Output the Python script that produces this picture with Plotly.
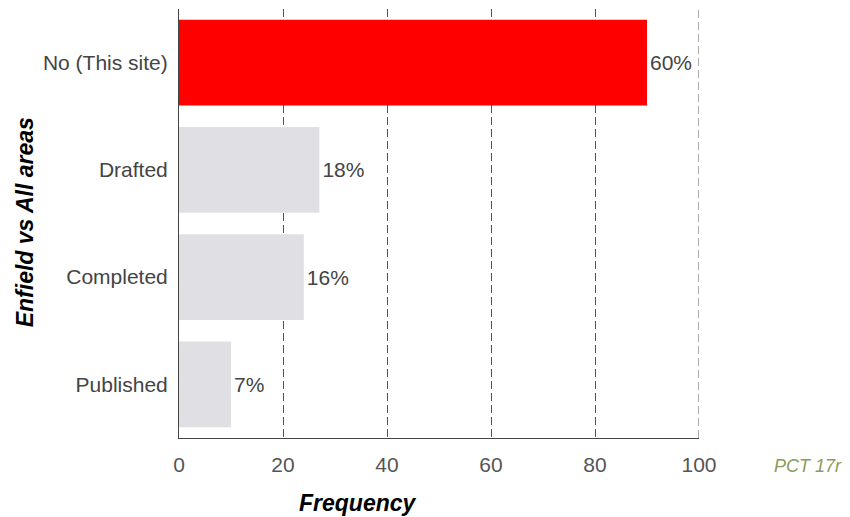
import plotly.graph_objects as go

categories = ["No (This site)", "Drafted", "Completed", "Published"]
frequencies = [90, 27, 24, 10]
percent_labels = ["60%", "18%", "16%", "7%"]
bar_colors = ["#ff0000", "#e0e0e4", "#e0e0e4", "#e0e0e4"]
x_ticks = [0, 20, 40, 60, 80, 100]

font_family = "Liberation Sans, Arial, sans-serif"

fig = go.Figure()
fig.add_trace(go.Bar(
    y=categories,
    x=frequencies,
    orientation="h",
    marker=dict(color=bar_colors, line=dict(width=0)),
    width=0.8,
    text=percent_labels,
    textposition="outside",
    cliponaxis=False,
    textfont=dict(family=font_family, size=21, color="#444444"),
    hoverinfo="skip",
))

# gridline at the last tick (plotly omits it at the range edge)
fig.add_shape(type="line", xref="x", yref="paper",
              x0=x_ticks[-1], x1=x_ticks[-1], y0=0, y1=1,
              line=dict(color="#555555", width=1, dash="8px,4px"), layer="below")

fig.update_layout(
    width=842, height=509,
    margin=dict(l=171, r=151, t=1, b=79),
    paper_bgcolor="white",
    plot_bgcolor="white",
    showlegend=False,
    font=dict(family=font_family),
    xaxis=dict(
        range=[0, 100],
        tickvals=x_ticks,
        showgrid=True,
        gridcolor="#555555",
        griddash="8px,4px",
        gridwidth=1,
        showline=True,
        linecolor="#444444",
        linewidth=1,
        zeroline=False,
        ticks="",
        ticklabelstandoff=8,
        tickfont=dict(family=font_family, size=21, color="#555555"),
        fixedrange=True,
    ),
    yaxis=dict(
        categoryorder="array",
        categoryarray=categories[::-1],
        range=[-0.5, 3.5],
        showline=True,
        linecolor="#444444",
        linewidth=1,
        showgrid=False,
        zeroline=False,
        ticks="",
        ticklabelstandoff=6,
        tickfont=dict(family=font_family, size=21, color="#444444"),
        fixedrange=True,
    ),
    annotations=[
        dict(text="<b><i>Frequency</i></b>", xref="paper", yref="paper",
             x=0.344, y=-0.1515, xanchor="center", yanchor="middle",
             showarrow=False, font=dict(family=font_family, size=23, color="#000000")),
        dict(text="<b><i>Enfield vs All areas</i></b>", xref="paper", yref="paper",
             x=-0.296, y=0.503, xanchor="center", yanchor="middle", textangle=-90,
             showarrow=False, font=dict(family=font_family, size=23, color="#000000")),
        dict(text="<i>PCT 17r</i>", xref="paper", yref="paper",
             x=1.2096, y=-0.065, xanchor="center", yanchor="middle",
             showarrow=False, font=dict(family=font_family, size=18, color="#8c9a5a")),
    ],
)

fig.write_html("out.html")
